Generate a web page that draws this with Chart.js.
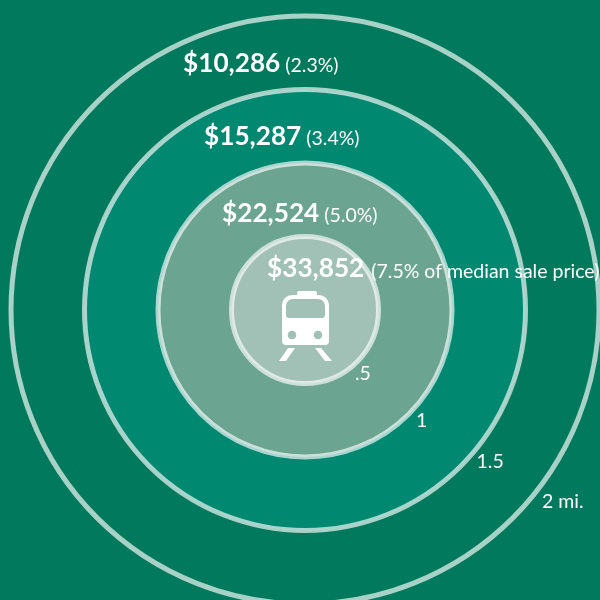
<!DOCTYPE html>
<html>
<head>
<meta charset="utf-8">
<style>html,body{margin:0;padding:0;background:#00795c;overflow:hidden}canvas{display:block}</style>
<script src="https://cdn.jsdelivr.net/npm/chart.js@4"></script>
</head>
<body>
<canvas id="c" width="600" height="600"></canvas>
<script>
const distances = [2, 1.5, 1, 0.5];
const premiums = ['$10,286', '$15,287', '$22,524', '$33,852'];
const shares = ['(2.3%)', '(3.4%)', '(5.0%)', '(7.5% of median sale price)'];
const distanceLabels = ['2 mi.', '1.5', '1', '.5'];

const fills = ['#00795c', '#008871', '#6ba591', '#a1c0b6'];
const valueAnchors = [[183, 72], [204, 145], [222, 222], [267, 277]];
const shareGaps = [5, 5, 5, 7];
const shareDrops = [0, 0, 0, 1];
const distanceAnchors = [[542, 508], [476.5, 468], [416, 427], [355, 380]];
const PX_PER_MILE = 147;
const CX = 305, CY = 310;

const overlay = {
  id: 'overlay',
  afterDatasetsDraw(chart) {
    const ctx = chart.ctx;
    ctx.save();
    ctx.fillStyle = '#ffffff';
    ctx.textBaseline = 'alphabetic';
    ctx.textAlign = 'left';
    premiums.forEach((p, i) => {
      const [x, y] = valueAnchors[i];
      ctx.font = 'bold 26.2px Lato';
      ctx.fillText(p, x, y);
      const w = ctx.measureText(p).width;
      ctx.font = '19.5px Lato';
      ctx.fillText(shares[i], x + w + shareGaps[i], y + shareDrops[i]);
    });
    ctx.font = '19.5px Lato';
    distanceLabels.forEach((t, i) => {
      const [x, y] = distanceAnchors[i];
      ctx.fillText(t, x, y);
    });
    // train icon
    ctx.translate(chart.scales.x.getPixelForValue(0), chart.scales.y.getPixelForValue(0));
    const body = new Path2D();
    body.roundRect(-23, -15, 47, 50, [10, 10, 4, 4]);
    body.roundRect(-19, -11, 39, 19, [7, 7, 3, 3]);
    body.moveTo(-13 + 4.3, 25);
    body.arc(-13, 25, 4.3, 0, Math.PI * 2);
    body.closePath();
    body.moveTo(13 + 4.3, 25);
    body.arc(13, 25, 4.3, 0, Math.PI * 2);
    body.closePath();
    ctx.fill(body, 'evenodd');
    const top = new Path2D();
    top.roundRect(-8, -19, 20, 6, 2);
    ctx.fill(top);
    [[-17, 38, -10, 38, -19, 51, -26, 51], [10, 38, 16, 38, 27, 51, 20, 51]].forEach(p => {
      ctx.beginPath();
      ctx.moveTo(p[0], p[1]); ctx.lineTo(p[2], p[3]); ctx.lineTo(p[4], p[5]); ctx.lineTo(p[6], p[7]);
      ctx.closePath();
      ctx.fill();
    });
    ctx.restore();
  }
};

const ringRadius = ctx => {
  const s = ctx.chart.scales.x;
  return Math.abs(s.getPixelForValue(distances[ctx.dataIndex]) - s.getPixelForValue(0));
};

new Chart(document.getElementById('c'), {
  type: 'scatter',
  data: {
    datasets: [{
      data: distances.map(() => ({ x: 0, y: 0 })),
      backgroundColor: fills,
      borderColor: 'rgba(255,255,255,0.66)',
      borderWidth: 5,
      pointRadius: ringRadius,
      pointHoverRadius: ringRadius
    }]
  },
  options: {
    responsive: false,
    animation: false,
    events: [],
    layout: { padding: 0 },
    plugins: { legend: { display: false }, tooltip: { enabled: false }, title: { display: false } },
    scales: {
      x: { type: 'linear', display: false, min: -CX / PX_PER_MILE, max: (600 - CX) / PX_PER_MILE },
      y: { type: 'linear', display: false, min: -(600 - CY) / PX_PER_MILE, max: CY / PX_PER_MILE }
    }
  },
  plugins: [overlay]
});
</script>
</body>
</html>
